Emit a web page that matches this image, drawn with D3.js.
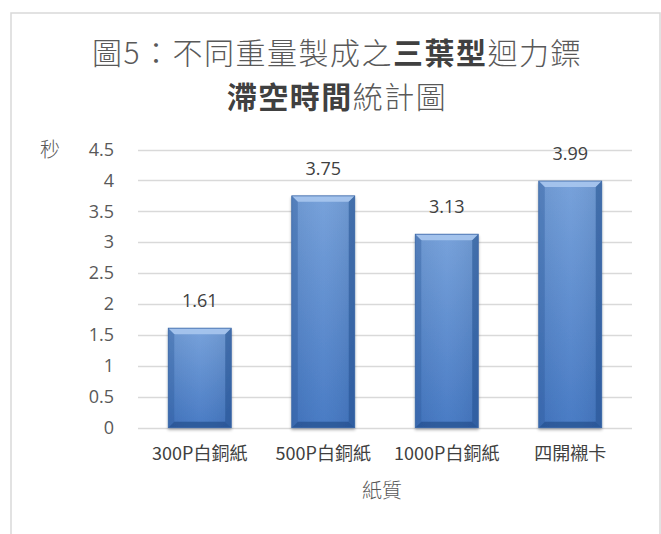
<!DOCTYPE html>
<html><head><meta charset="utf-8">
<script src="https://cdn.jsdelivr.net/npm/d3@7"></script>
<style>body{margin:0;background:#fff}svg{display:block}</style>
</head><body>
<script>
const categories = ["300P白銅紙", "500P白銅紙", "1000P白銅紙", "四開襯卡"];
const values = [1.61, 3.75, 3.13, 3.99];
const yTicks = [0, 0.5, 1, 1.5, 2, 2.5, 3, 3.5, 4, 4.5];
const titleLine1 = [["圖5：不同重量製成之", false], ["三葉型", true], ["迴力鏢", false]];
const titleLine2 = [["滯空時間", true], ["統計圖", false]];
const xTitle = "紙質";
const yTitle = "秒";

const W = 661, H = 534;
const svg = d3.select("body").append("svg").attr("width", W).attr("height", H);
const defs = svg.append("defs");
const g1 = defs.append("linearGradient").attr("id", "barg").attr("x1", 0).attr("y1", 0).attr("x2", 0).attr("y2", 1);
g1.append("stop").attr("offset", "0%").attr("stop-color", "#729ED9");
g1.append("stop").attr("offset", "100%").attr("stop-color", "#4276C2");
const g2 = defs.append("linearGradient").attr("id", "barh").attr("x1", 0).attr("y1", 0).attr("x2", 1).attr("y2", 0);
g2.append("stop").attr("offset", "0%").attr("stop-color", "#000").attr("stop-opacity", 0.05);
g2.append("stop").attr("offset", "50%").attr("stop-color", "#fff").attr("stop-opacity", 0.04);
g2.append("stop").attr("offset", "100%").attr("stop-color", "#000").attr("stop-opacity", 0.07);
const sh = defs.append("filter").attr("id", "shadow").attr("x", "-20%").attr("y", "-5%").attr("width", "140%").attr("height", "115%");
sh.append("feGaussianBlur").attr("in", "SourceAlpha").attr("stdDeviation", 1.5).attr("result", "b");
sh.append("feOffset").attr("in", "b").attr("dx", 0).attr("dy", 2).attr("result", "o");
sh.append("feComponentTransfer").attr("in", "o").attr("result", "oa").append("feFuncA").attr("type", "linear").attr("slope", 0.3);
const mg = sh.append("feMerge");
mg.append("feMergeNode").attr("in", "oa");
mg.append("feMergeNode").attr("in", "SourceGraphic");

// chart border
svg.append("rect").attr("x", 11).attr("y", 13).attr("width", 649).attr("height", 540)
  .attr("fill", "#fff").attr("stroke", "#D9D9D9").attr("stroke-width", 1.5);

const plot = {left: 138, right: 632, top: 149.5, bottom: 427.7};
const x = d3.scaleBand().domain(categories).range([plot.left, plot.right]).paddingInner(0.49).paddingOuter(0.245);
const y = d3.scaleLinear().domain([0, 4.5]).range([plot.bottom, plot.top]);

// title
const tfont = "'Noto Sans CJK TC', 'Noto Sans CJK SC', sans-serif";
function titleLine(parts, ty) {
  const t = svg.append("text").attr("x", 337).attr("y", ty).attr("text-anchor", "middle")
    .attr("font-family", tfont).attr("font-size", 30).attr("letter-spacing", 1.5).attr("fill", "#595959");
  parts.forEach(([s, b]) => t.append("tspan").text(s)
    .attr("font-weight", b ? 700 : 300).attr("fill", b ? "#404040" : "#595959"));
}
titleLine(titleLine1, 64);
titleLine(titleLine2, 108);

// gridlines
svg.append("g").selectAll("line").data(yTicks).join("line")
  .attr("x1", plot.left).attr("x2", plot.right)
  .attr("y1", d => Math.round(y(d)) + 0.5).attr("y2", d => Math.round(y(d)) + 0.5)
  .attr("stroke", "#D9D9D9").attr("stroke-width", 1.3);

// y axis
const yAxis = svg.append("g").attr("transform", `translate(${plot.left},0)`)
  .call(d3.axisLeft(y).tickValues(yTicks).tickSize(0).tickPadding(24).tickFormat(d3.format("")));
yAxis.select(".domain").remove();
yAxis.selectAll("text").attr("font-family", "'Open Sans', 'Noto Sans', sans-serif").attr("font-size", 18).attr("fill", "#595959");

// x axis
const xAxis = svg.append("g").attr("transform", `translate(0,${plot.bottom})`)
  .call(d3.axisBottom(x).tickSize(0).tickPadding(20));
xAxis.select(".domain").remove();
xAxis.selectAll("text").attr("font-family", "'Noto Sans CJK TC', 'Open Sans', sans-serif").attr("font-size", 18).attr("fill", "#404040");

// bars
const bev = 6;
const bars = svg.append("g").selectAll("g").data(values).join("g").attr("filter", "url(#shadow)");
bars.each(function(v, i) {
  const g = d3.select(this);
  const x0 = x(categories[i]), x1 = x0 + x.bandwidth(), y0 = y(v), y1 = y(0);
  g.append("rect").attr("x", x0).attr("y", y0).attr("width", x1 - x0).attr("height", y1 - y0).attr("fill", "url(#barg)");
  g.append("rect").attr("x", x0).attr("y", y0).attr("width", x1 - x0).attr("height", y1 - y0).attr("fill", "url(#barh)");
  const poly = (pts, fill, op) => g.append("polygon").attr("points", pts.map(p => p.join(",")).join(" ")).attr("fill", fill).attr("opacity", op);
  poly([[x0, y0], [x1, y0], [x1 - bev, y0 + bev], [x0 + bev, y0 + bev]], "#A9C6EE", 0.9);
  poly([[x0, y0], [x0 + bev, y0 + bev], [x0 + bev, y1 - bev], [x0, y1]], "#2F5C9E", 0.4);
  poly([[x1, y0], [x1 - bev, y0 + bev], [x1 - bev, y1 - bev], [x1, y1]], "#23508F", 0.55);
  poly([[x0, y1], [x0 + bev, y1 - bev], [x1 - bev, y1 - bev], [x1, y1]], "#244F8C", 0.7);
  g.append("rect").attr("x", x0).attr("y", y0).attr("width", x1 - x0).attr("height", y1 - y0)
    .attr("fill", "none").attr("stroke", "#3A66A6").attr("stroke-width", 0.8);
});

// data labels
svg.append("g").selectAll("text").data(values).join("text")
  .attr("x", (d, i) => x(categories[i]) + x.bandwidth() / 2)
  .attr("y", d => y(d) - 21)
  .attr("text-anchor", "middle")
  .attr("font-family", "'Open Sans', 'Noto Sans', sans-serif").attr("font-size", 18).attr("fill", "#404040")
  .text(d => d3.format(".2f")(d));

// axis titles
svg.append("text").attr("x", (plot.left + plot.right) / 2 - 3).attr("y", 498).attr("text-anchor", "middle")
  .attr("font-family", tfont).attr("font-weight", 300).attr("font-size", 20).attr("fill", "#595959").text(xTitle);
svg.append("text").attr("x", 50).attr("y", 157).attr("text-anchor", "middle")
  .attr("font-family", tfont).attr("font-weight", 300).attr("font-size", 20).attr("fill", "#595959").text(yTitle);
</script>
</body></html>
